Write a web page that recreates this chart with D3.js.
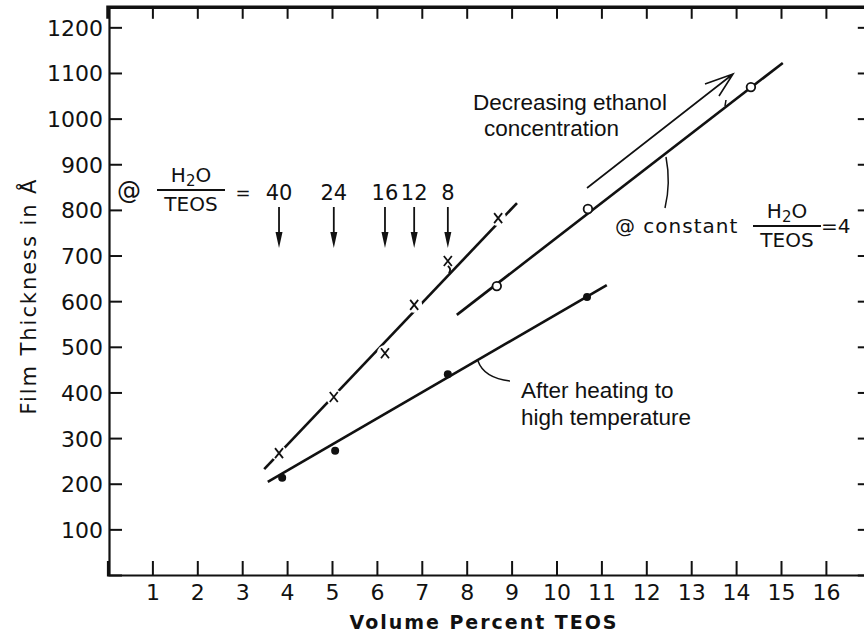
<!DOCTYPE html>
<html>
<head>
<meta charset="utf-8">
<script src="https://cdn.jsdelivr.net/npm/d3@7/dist/d3.min.js"></script>
<style>
  html, body { margin: 0; padding: 0; background: #fff; }
  svg { display: block; }
  .tick text { font-family: "DejaVu Sans", sans-serif; fill: #111; }
</style>
</head>
<body>
<svg id="chart" width="864" height="634"></svg>
<script>
// Film thickness vs. TEOS volume percent
const xTicks = [1, 2, 3, 4, 5, 6, 7, 8, 9, 10, 11, 12, 13, 14, 15, 16];
const yTicks = [100, 200, 300, 400, 500, 600, 700, 800, 900, 1000, 1100, 1200];

// varying H2O/TEOS ratio (crosses)
const ratioX = [3.82, 5.04, 6.18, 6.83, 7.58, 8.70];
const ratioY = [267, 390, 486, 592, 688, 782];
const ratioLabels = ["40", "24", "16", "12", "8"];
const ratioFit = [[3.49, 232], [9.12, 815]];

// constant H2O/TEOS = 4 (open circles)
const constX = [8.67, 10.70, 14.33];
const constY = [633, 802, 1069];
const constFit = [[7.78, 570], [15.04, 1122]];

// after heating (filled dots)
const heatX = [3.89, 5.07, 7.58, 10.68];
const heatY = [213, 272, 440, 609];
const heatFit = [[3.57, 204], [11.12, 635]];

const svg = d3.select("#chart");
const x = d3.scaleLinear().domain([0, 17]).range([107.5, 870.8]);
const y = d3.scaleLinear().domain([0, 1245]).range([575, 6.8]);

const ink = "#111";

// axes
const gx = svg.append("g").attr("transform", `translate(0,${y(0)})`)
  .call(d3.axisBottom(x).tickValues(xTicks).tickSize(-14).tickPadding(9).tickFormat(d3.format("d")));
const gy = svg.append("g").attr("transform", `translate(${x(0) + 1.5},0)`)
  .call(d3.axisLeft(y).tickValues(yTicks).tickSize(-13).tickPadding(6).tickFormat(d3.format("d")));
const gt = svg.append("g").attr("transform", `translate(0,${y(1245)})`)
  .call(d3.axisTop(x).tickValues(xTicks).tickSize(-12).tickFormat(""));
const gr = svg.append("g").attr("transform", `translate(${x(17)},0)`)
  .call(d3.axisRight(y).tickValues(yTicks).tickSize(-13).tickFormat(""));

[gx, gy, gt, gr].forEach(g => {
  g.selectAll(".tick line").attr("stroke", ink).attr("stroke-width", 2);
  g.select(".domain").attr("stroke", ink).attr("stroke-width", 2.2);
});
gt.select(".domain").attr("stroke-width", 3.5);
gx.selectAll(".tick text").attr("font-size", 22);
gy.selectAll(".tick text").attr("font-size", 22).attr("dy", "0.36em");

// axis titles
svg.append("text")
  .attr("x", 483).attr("y", 629)
  .attr("text-anchor", "middle")
  .attr("font-family", "DejaVu Sans, sans-serif").attr("font-weight", "bold")
  .attr("font-size", 19).attr("textLength", 267).attr("lengthAdjust", "spacing")
  .attr("fill", ink)
  .text("Volume Percent TEOS");

svg.append("text")
  .attr("transform", "translate(36,297) rotate(-90)")
  .attr("text-anchor", "middle")
  .attr("font-family", "DejaVu Sans, sans-serif")
  .attr("font-size", 21).attr("textLength", 235).attr("lengthAdjust", "spacing")
  .attr("fill", ink)
  .text("Film Thickness in Å");

const line = d3.line().x(d => x(d[0])).y(d => y(d[1]));

// fitted lines
svg.append("path").attr("d", line(ratioFit)).attr("stroke", ink).attr("stroke-width", 2.6).attr("fill", "none");
svg.append("path").attr("d", line(constFit)).attr("stroke", ink).attr("stroke-width", 2.6).attr("fill", "none");
svg.append("path").attr("d", line(heatFit)).attr("stroke", ink).attr("stroke-width", 2.6).attr("fill", "none");

// crosses with a clear gap in the line around each
const ratioPts = ratioX.map((v, i) => [v, ratioY[i]]);
svg.append("g").selectAll("circle").data(ratioPts).join("circle")
  .attr("cx", d => x(d[0])).attr("cy", d => y(d[1])).attr("r", 8).attr("fill", "#fff");
svg.append("g").selectAll("path").data(ratioPts).join("path")
  .attr("d", d => {
    const cx = x(d[0]), cy = y(d[1]), s = 4;
    return `M${cx - s},${cy - s - 1}L${cx + s},${cy + s + 1}M${cx + s},${cy - s - 1}L${cx - s},${cy + s + 1}`;
  })
  .attr("stroke", ink).attr("stroke-width", 1.8).attr("fill", "none");

// small hook joining the "8" cross to its line
{
  const cx = x(ratioX[4]), cy = y(ratioY[4]);
  svg.append("path")
    .attr("d", `M${cx},${cy + 5}Q${cx + 4},${cy + 8} ${cx + 1},${cy + 12}`)
    .attr("stroke", ink).attr("stroke-width", 1.8).attr("fill", "none");
}

// open circles
svg.append("g").selectAll("circle").data(constX.map((v, i) => [v, constY[i]])).join("circle")
  .attr("cx", d => x(d[0])).attr("cy", d => y(d[1])).attr("r", 4.3)
  .attr("fill", "#fff").attr("stroke", ink).attr("stroke-width", 1.8);

// filled dots
svg.append("g").selectAll("circle").data(heatX.map((v, i) => [v, heatY[i]])).join("circle")
  .attr("cx", d => x(d[0])).attr("cy", d => y(d[1])).attr("r", 4)
  .attr("fill", ink);

// H2O/TEOS ratio annotation with arrows
const geo = "DejaVu Sans, sans-serif";
svg.append("text").attr("x", 129).attr("y", 199).attr("text-anchor", "middle")
  .attr("font-family", geo).attr("font-size", 24).attr("fill", ink).text("@");
function fraction(cx, yTop) {
  const t = svg.append("text").attr("x", cx).attr("y", yTop).attr("text-anchor", "middle")
    .attr("font-family", geo).attr("font-size", 20).attr("fill", ink);
  t.append("tspan").text("H");
  t.append("tspan").attr("font-size", 15).attr("dy", 4).text("2");
  t.append("tspan").attr("dy", -4).text("O");
  svg.append("line").attr("x1", cx - 34).attr("x2", cx + 34).attr("y1", yTop + 8).attr("y2", yTop + 8)
    .attr("stroke", ink).attr("stroke-width", 1.8);
  svg.append("text").attr("x", cx).attr("y", yTop + 29).attr("text-anchor", "middle")
    .attr("font-family", geo).attr("font-size", 20).attr("fill", ink).text("TEOS");
}
fraction(191, 182);
svg.append("text").attr("x", 243).attr("y", 199).attr("text-anchor", "middle")
  .attr("font-family", geo).attr("font-size", 18).attr("fill", ink).text("=");

ratioLabels.forEach((lab, i) => {
  const ax = x(ratioX[i]);
  svg.append("text").attr("x", ax).attr("y", 200).attr("text-anchor", "middle")
    .attr("font-family", geo).attr("font-size", 21).attr("fill", ink).text(lab);
  svg.append("line").attr("x1", ax).attr("x2", ax).attr("y1", 207).attr("y2", 236)
    .attr("stroke", ink).attr("stroke-width", 1.8);
  svg.append("path").attr("d", `M${ax - 3.5},${232}L${ax + 3.5},${232}L${ax},${248}Z`).attr("fill", ink);
});

// constant ratio annotation
svg.append("path").attr("d", "M666,157 Q671,183 665,208")
  .attr("stroke", ink).attr("stroke-width", 1.5).attr("fill", "none");
svg.append("text").attr("x", 615).attr("y", 233)
  .attr("font-family", geo).attr("font-size", 20).attr("fill", ink)
  .attr("letter-spacing", 1).text("@ constant");
fraction(787, 218);
svg.append("text").attr("x", 821).attr("y", 233)
  .attr("font-family", geo).attr("font-size", 20).attr("fill", ink).text("=4");
svg.append("line").attr("x1", 726).attr("x2", 725).attr("y1", 100).attr("y2", 106)
  .attr("stroke", ink).attr("stroke-width", 1.5);

// decreasing ethanol arrow
svg.append("path").attr("d", "M587,188 L733,74 M705,84 L733,74 L719,96")
  .attr("stroke", ink).attr("stroke-width", 1.6).attr("fill", "none");
const sans = "Liberation Sans, Arial, sans-serif";
svg.append("text").attr("x", 473).attr("y", 110).attr("font-family", sans).attr("font-size", 22.5)
  .attr("fill", ink).text("Decreasing ethanol");
svg.append("text").attr("x", 484).attr("y", 136).attr("font-family", sans).attr("font-size", 22.5)
  .attr("fill", ink).text("concentration");

// after heating annotation
svg.append("path").attr("d", "M478,361 Q484,378 510,381")
  .attr("stroke", ink).attr("stroke-width", 1.5).attr("fill", "none");
svg.append("text").attr("x", 521).attr("y", 398).attr("font-family", sans).attr("font-size", 22.5)
  .attr("fill", ink).text("After heating to");
svg.append("text").attr("x", 521).attr("y", 425).attr("font-family", sans).attr("font-size", 22.5)
  .attr("fill", ink).text("high temperature");
</script>
</body>
</html>
